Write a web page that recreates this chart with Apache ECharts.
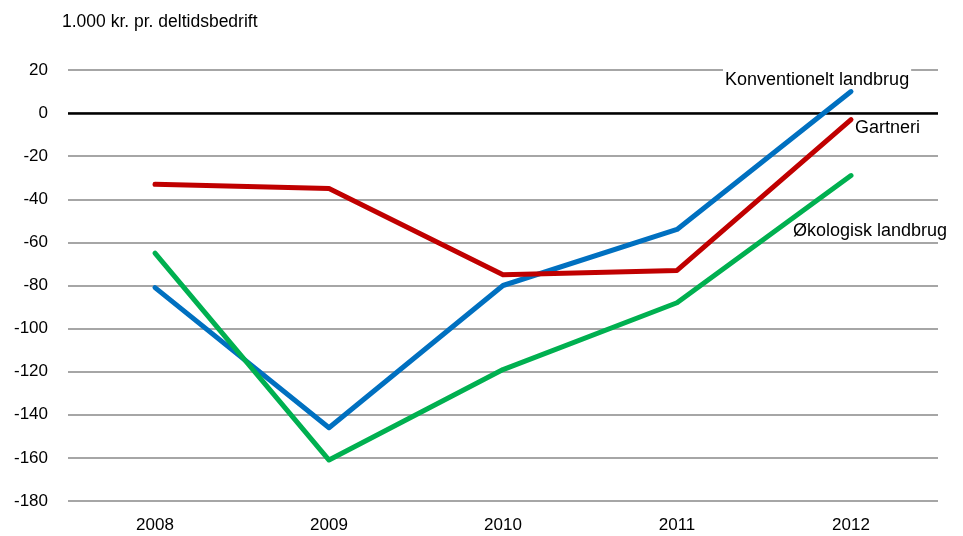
<!DOCTYPE html>
<html>
<head>
<meta charset="utf-8">
<script src="https://cdn.jsdelivr.net/npm/echarts@6/dist/echarts.min.js"></script>
<style>
  html, body { margin: 0; padding: 0; background: #fff; }
  #chart { width: 963px; height: 536px; }
</style>
</head>
<body>
<div id="chart"></div>
<script>
// 数据
const years = ["2008", "2009", "2010", "2011", "2012"];
const konventionelt = [-81, -146, -80, -54, 10];
const gartneri = [-33, -35, -75, -73, -3];
const okologisk = [-65, -161, -119, -88, -29];

const font = "Liberation Sans, Arial, sans-serif";
const chart = echarts.init(document.getElementById("chart"));

function line(name, data, color) {
  return {
    name: name,
    type: "line",
    data: data,
    symbol: "none",
    lineStyle: { width: 5, color: color, cap: "round", join: "round" },
    itemStyle: { color: color },
    z: 5
  };
}

// 线条旁边的文字（白底，盖住网格线但在线条下面）
function label(text, x, y) {
  return {
    type: "text",
    left: x,
    top: y,
    z: 1,
    style: {
      text: text,
      font: "18px " + font,
      fill: "#000",
      backgroundColor: "#fff",
      padding: [2, 2, 2, 2]
    }
  };
}

chart.setOption({
  animation: false,
  grid: { left: 68, right: 25, top: 70, bottom: 35 },
  xAxis: {
    type: "category",
    data: years,
    boundaryGap: true,
    axisLine: { show: false },
    axisTick: { show: false },
    axisLabel: { color: "#000", fontSize: 17, fontFamily: font, margin: 16 }
  },
  yAxis: {
    type: "value",
    min: -180,
    max: 20,
    interval: 20,
    axisLine: { show: false },
    axisTick: { show: false },
    axisLabel: { color: "#000", fontSize: 17, fontFamily: font, margin: 20 },
    splitLine: { lineStyle: { color: "#a6a6a6", width: 2 } }
  },
  graphic: [
    {
      type: "text",
      left: 62,
      top: 13,
      style: { text: "1.000 kr. pr. deltidsbedrift", font: "17.5px " + font, fill: "#000" }
    },
    label("Konventionelt landbrug", 723, 69),
    label("Gartneri", 853, 117),
    label("Økologisk landbrug", 791, 220)
  ],
  series: [
    line("Konventionelt landbrug", konventionelt, "#0070c0"),
    line("Gartneri", gartneri, "#c00000"),
    line("Økologisk landbrug", okologisk, "#00b050"),
    {
      type: "line",
      data: [],
      markLine: {
        silent: true,
        symbol: "none",
        label: { show: false },
        lineStyle: { color: "#000", width: 2.5, type: "solid" },
        data: [{ yAxis: 0 }]
      },
      z: 2
    }
  ]
});
</script>
</body>
</html>
